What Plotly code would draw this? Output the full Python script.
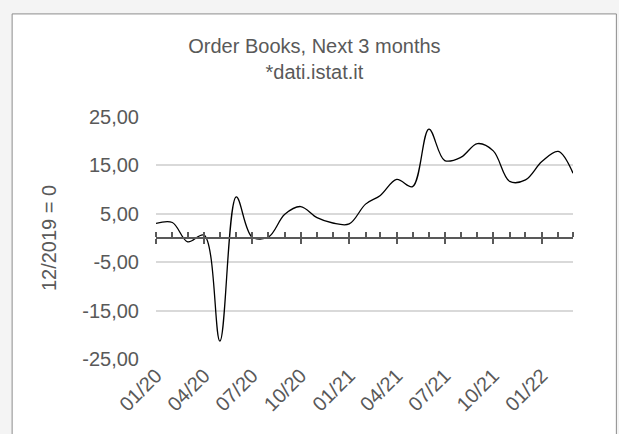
import plotly.graph_objects as go

months = [
    "2020-01-01", "2020-02-01", "2020-03-01", "2020-04-01", "2020-05-01", "2020-06-01",
    "2020-07-01", "2020-08-01", "2020-09-01", "2020-10-01", "2020-11-01", "2020-12-01",
    "2021-01-01", "2021-02-01", "2021-03-01", "2021-04-01", "2021-05-01", "2021-06-01",
    "2021-07-01", "2021-08-01", "2021-09-01", "2021-10-01", "2021-11-01", "2021-12-01",
    "2022-01-01", "2022-02-01", "2022-03-01",
]
order_books = [
    3.0, 3.2, -0.8, 0.6, -21.3, 8.5,
    0.2, 0.2, 4.9, 6.5, 4.2, 3.1,
    2.9, 7.0, 8.8, 12.1, 10.6, 22.5,
    16.0, 16.7, 19.5, 18.0, 11.7, 12.0,
    15.8, 17.9, 13.4,
]
y_ticks = [-25, -15, -5, 5, 15, 25]
y_tick_labels = ["-25,00", "-15,00", "-5,00", "5,00", "15,00", "25,00"]

grey_txt = "#595959"
axis_col = "#595959"
font = "Liberation Sans, Arial, sans-serif"
fs = 20

fig = go.Figure()

fig.add_trace(go.Scatter(
    x=months, y=order_books, mode="lines",
    line=dict(color="black", width=1.3, shape="spline", smoothing=1),
    xaxis="x", yaxis="y", showlegend=False, hoverinfo="x+y",
))

xrange = [months[0], months[-1]]

fig.update_layout(
    width=619, height=434,
    paper_bgcolor="#f4f4f4",
    plot_bgcolor="white",
    separators=",.",
    margin=dict(l=156, r=46, t=117, b=75),
    font=dict(family=font, color=grey_txt),
    title=dict(
        text="Order Books, Next 3 months<br>*dati.istat.it",
        x=0.508, xanchor="center", y=0.878, yanchor="middle",
        font=dict(size=20, color=grey_txt),
    ),
    xaxis=dict(
        range=xrange, tickformat="%m/%y", dtick="M3", tick0=months[0],
        tickangle=-45, showgrid=False, showline=False, zeroline=False,
        ticks="", tickfont=dict(size=fs, color=grey_txt),
    ),
    # zero line axis with crossing ticks
    xaxis2=dict(
        range=xrange, overlaying="x", anchor="free", position=0.5,
        showticklabels=False, showgrid=False, zeroline=False,
        showline=True, linecolor=axis_col, linewidth=2,
        ticks="outside", dtick="M3", tick0=months[0], ticklen=5,
        tickwidth=1.5, tickcolor=axis_col,
        minor=dict(ticks="inside", dtick="M1", ticklen=5, tickwidth=1.5,
                   tickcolor=axis_col, showgrid=False),
    ),
    xaxis3=dict(
        range=xrange, overlaying="x", anchor="free", position=0.5,
        showticklabels=False, showgrid=False, zeroline=False, showline=False,
        ticks="inside", dtick="M3", tick0=months[0], ticklen=5,
        tickwidth=1.5, tickcolor=axis_col,
    ),
    yaxis=dict(
        range=[-25, 25], tickvals=y_ticks, ticktext=y_tick_labels,
        showgrid=True, gridcolor="#d9d9d9", gridwidth=1.5,
        zeroline=False, showline=False, ticks="", ticklabelstandoff=16,
        tickfont=dict(size=fs, color=grey_txt),
        title=dict(text="12/2019 = 0", font=dict(size=20, color=grey_txt), standoff=20),
    ),
    shapes=[dict(
        type="rect", xref="paper", yref="paper",
        x0=-0.345, x1=1.104, y0=-0.4, y1=1.426,
        line=dict(color="#8c8c8c", width=1), fillcolor="white", layer="below",
    )],
)

# dummy traces so the overlay axes are drawn
fig.add_trace(go.Scatter(x=[months[0]], y=[None], xaxis="x2", yaxis="y",
                         showlegend=False, hoverinfo="skip"))
fig.add_trace(go.Scatter(x=[months[0]], y=[None], xaxis="x3", yaxis="y",
                         showlegend=False, hoverinfo="skip"))

fig.write_html("out.html", config={"displayModeBar": False},
               post_script="document.body.style.margin='0';")
